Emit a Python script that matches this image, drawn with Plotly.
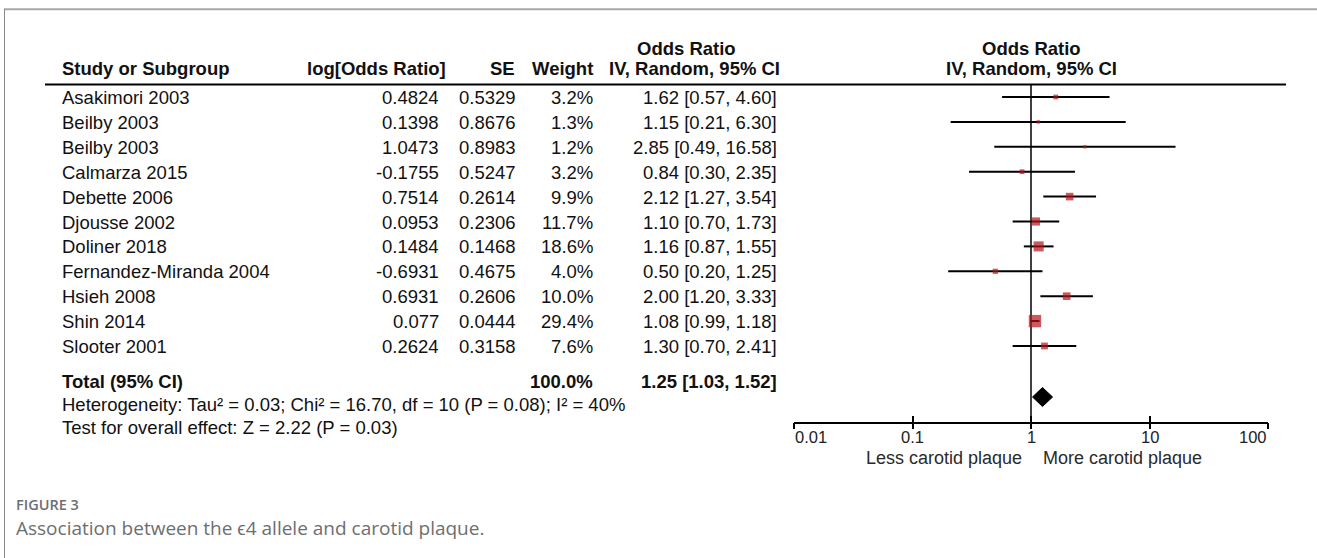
import math
import plotly.graph_objects as go

# ---------------- data ----------------
studies = ["Asakimori 2003", "Beilby 2003", "Beilby 2003", "Calmarza 2015", "Debette 2006",
           "Djousse 2002", "Doliner 2018", "Fernandez-Miranda 2004", "Hsieh 2008", "Shin 2014",
           "Slooter 2001"]
log_or = [0.4824, 0.1398, 1.0473, -0.1755, 0.7514, 0.0953, 0.1484, -0.6931, 0.6931, 0.077, 0.2624]
se = [0.5329, 0.8676, 0.8983, 0.5247, 0.2614, 0.2306, 0.1468, 0.4675, 0.2606, 0.0444, 0.3158]
weight = [3.2, 1.3, 1.2, 3.2, 9.9, 11.7, 18.6, 4.0, 10.0, 29.4, 7.6]
or_est = [1.62, 1.15, 2.85, 0.84, 2.12, 1.10, 1.16, 0.50, 2.00, 1.08, 1.30]
ci_lo = [0.57, 0.21, 0.49, 0.30, 1.27, 0.70, 0.87, 0.20, 1.20, 0.99, 0.70]
ci_hi = [4.60, 6.30, 16.58, 2.35, 3.54, 1.73, 1.55, 1.25, 3.33, 1.18, 2.41]

total_weight = 100.0
total_est, total_lo, total_hi = 1.25, 1.03, 1.52
heterogeneity = "Heterogeneity: Tau² = 0.03; Chi² = 16.70, df = 10 (P = 0.08); I² = 40%"
overall = "Test for overall effect: Z = 2.22 (P = 0.03)"

tick_vals = [0.01, 0.1, 1, 10, 100]
tick_labels = ["0.01", "0.1", "1", "10", "100"]
favours_left = "Less carotid plaque"
favours_right = "More carotid plaque"
caption_label = "FIGURE 3"
caption_text = "Association between the ϵ4 allele and carotid plaque."

# ---------------- layout helpers ----------------
W, H = 1317, 558
AXIS_Y = 421.5
RULE_Y = 84.5
ROW0, ROW_H = 97, 24.9
TEXT_DY = 0.5
rows_y = [ROW0 + i * ROW_H for i in range(len(studies))]
TOTAL_Y = 381.5
DIAMOND_Y = 397
FONT = "Liberation Sans, Arial, Helvetica, sans-serif"
FS = 18.5
SMALL = 16.5
FAV = 18


def px(x):
    return x / W


def py(y):
    return 1 - y / H


annotations = []


def txt(x, y, s, anchor="left", bold=False, size=FS, color="#111111", family=FONT, weight=None):
    f = dict(family=family, size=size, color=color)
    if weight is not None:
        f["weight"] = weight
    annotations.append(dict(
        x=px(x), y=py(y), xref="paper", yref="paper", text=f"<b>{s}</b>" if bold else s,
        showarrow=False, xanchor=anchor, yanchor="middle", font=f, borderpad=0))


# headers
HDR1, HDR2 = 48, 68
txt(61, HDR2, "Study or Subgroup", bold=True)
txt(447, HDR2, "log[Odds Ratio]", "right", bold=True)
txt(516, HDR2, "SE", "right", bold=True)
txt(594, HDR2, "Weight", "right", bold=True)
txt(686, HDR1, "Odds Ratio", "center", bold=True)
txt(694.5, HDR2, "IV, Random, 95% CI", "center", bold=True)
txt(1031, HDR1, "Odds Ratio", "center", bold=True)
txt(1031, HDR2, "IV, Random, 95% CI", "center", bold=True)

# study rows
for i, name in enumerate(studies):
    y = rows_y[i] + TEXT_DY
    txt(61, y, name)
    txt(440, y, str(log_or[i]), "right")
    txt(517, y, str(se[i]), "right")
    txt(594, y, f"{weight[i]:.1f}%", "right")
    txt(778, y, f"{or_est[i]:.2f} [{ci_lo[i]:.2f}, {ci_hi[i]:.2f}]", "right")

# totals
txt(61, TOTAL_Y, "Total (95% CI)", bold=True)
txt(594, TOTAL_Y, f"{total_weight:.1f}%", "right", bold=True)
txt(778, TOTAL_Y, f"{total_est:.2f} [{total_lo:.2f}, {total_hi:.2f}]", "right", bold=True)
txt(61, 404, heterogeneity)
txt(61, 427, overall)

# favours labels
txt(1023, 457.5, favours_left, "right", size=FAV, color="#2a2a2a")
txt(1042, 457.5, favours_right, "left", size=FAV, color="#2a2a2a")

# caption
txt(15, 504.5, caption_label, size=14.5, color="#6d6e71", family="Open Sans, sans-serif", weight=600)
txt(15, 528, caption_text, size=19, color="#6d6e71", family="Open Sans, sans-serif")

# tick labels placed on the log axis scale (first left-aligned, last right-aligned, as in RevMan)
for k, (tv, tl) in enumerate(zip(tick_vals, tick_labels)):
    anchor = "left" if k == 0 else ("right" if k == len(tick_vals) - 1 else "center")
    annotations.append(dict(x=math.log10(tv), y=py(436.5), xref="x", yref="paper",
                            text=tl, showarrow=False, xanchor=anchor, yanchor="middle",
                            font=dict(family=FONT, size=SMALL, color="#222222"), borderpad=0))

fig = go.Figure()

# line of no effect
fig.add_trace(go.Scatter(x=[1, 1], y=[RULE_Y, AXIS_Y], mode="lines",
                         line=dict(color="black", width=1.5), hoverinfo="skip", showlegend=False))

# CI whiskers
cx, cy = [], []
for lo, hi, y in zip(ci_lo, ci_hi, rows_y):
    cx += [lo, hi, None]
    cy += [y, y, None]
fig.add_trace(go.Scatter(x=cx, y=cy, mode="lines", line=dict(color="black", width=2),
                         hoverinfo="skip", showlegend=False))

# weight squares
fig.add_trace(go.Scatter(
    x=or_est, y=rows_y, mode="markers",
    marker=dict(symbol="square", size=[2.1 * math.sqrt(w) + 1 for w in weight],
                color="#b3141a", line=dict(width=0)),
    hoverinfo="skip", showlegend=False, cliponaxis=False))

# pooled diamond
DH = 9.5
fig.add_trace(go.Scatter(
    x=[total_lo, total_est, total_hi, total_est, total_lo],
    y=[DIAMOND_Y, DIAMOND_Y - DH, DIAMOND_Y, DIAMOND_Y + DH, DIAMOND_Y],
    mode="lines", fill="toself", fillcolor="black", line=dict(color="black", width=1),
    hoverinfo="skip", showlegend=False))

shapes = [
    # frame
    dict(type="line", xref="paper", yref="paper", x0=px(4), x1=px(W + 5), y0=py(9.3), y1=py(9.3),
         line=dict(color="#a8a8a8", width=2)),
    dict(type="line", xref="paper", yref="paper", x0=px(4.5), x1=px(4.5), y0=py(9), y1=py(H + 5),
         line=dict(color="#8a8a8a", width=1)),
    # header rule
    dict(type="line", xref="paper", yref="paper", x0=px(45), x1=px(1286), y0=py(RULE_Y),
         y1=py(RULE_Y), line=dict(color="black", width=2)),
]

x_dom = [794 / W, 1268 / W]
axis_common = dict(type="log", range=[-2, 2], domain=x_dom, tickvals=tick_vals,
                   showgrid=False, zeroline=False, fixedrange=True, showticklabels=False)

fig.update_layout(
    width=W, height=H, margin=dict(l=0, r=0, t=0, b=0, pad=0),
    paper_bgcolor="white", plot_bgcolor="rgba(0,0,0,0)",
    showlegend=False, annotations=annotations, shapes=shapes,
    xaxis=dict(**axis_common, anchor="y", showline=True, linecolor="black", linewidth=1.5,
               ticks="outside", ticklen=6, tickwidth=1.5, tickcolor="black"),
    xaxis2=dict(**axis_common, anchor="y", overlaying="x", showline=False,
                ticks="inside", ticklen=6, tickwidth=1.5, tickcolor="black"),
    yaxis=dict(range=[AXIS_Y, 0], domain=[1 - AXIS_Y / H, 1], visible=False, fixedrange=True),
)

# invisible trace to activate xaxis2 ticks
fig.add_trace(go.Scatter(x=[1], y=[AXIS_Y], xaxis="x2", yaxis="y", mode="markers",
                         marker=dict(opacity=0), hoverinfo="skip", showlegend=False))

fig.write_html("out.html", config={"displayModeBar": False},
               post_script="document.body.style.margin='0px';document.body.style.overflow='hidden';")
